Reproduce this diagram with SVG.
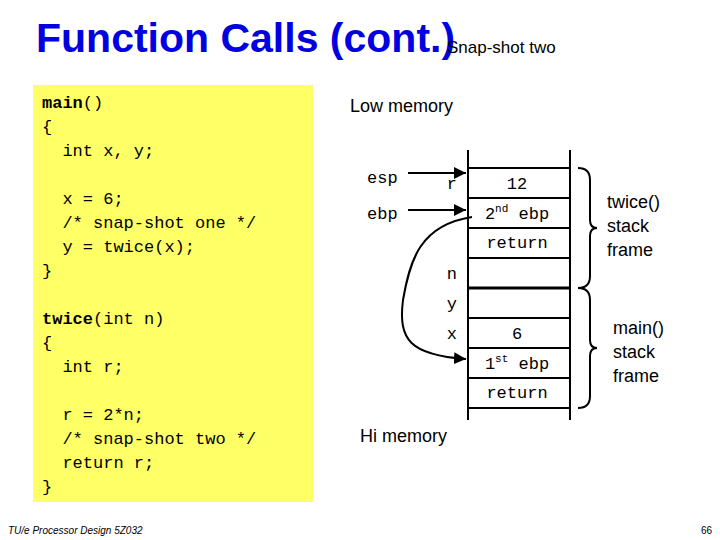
<svg xmlns="http://www.w3.org/2000/svg" width="720" height="540" viewBox="0 0 720 540">
<style>
.c{font-family:"Liberation Mono",monospace;font-size:17px;fill:#000}
.m{font-family:"Liberation Mono",monospace;font-size:17px;fill:#000}
.s{font-family:"Liberation Sans",Arial,sans-serif;fill:#000}
.l{stroke:#000;stroke-width:2;fill:none}
</style>
<defs><marker id="a" viewBox="0 0 10 10" refX="10" refY="5" markerWidth="6" markerHeight="6" orient="auto"><path d="M0,0L10,5L0,10z"/></marker></defs>
<rect width="720" height="540" fill="#fff"/>
<text x="36" y="52" font-family="Liberation Sans,Arial,sans-serif" font-weight="bold" font-size="41" fill="#0000e0">Function Calls (cont.)</text>
<text x="447" y="53" class="s" font-size="17">Snap-shot two</text>
<g id="code">
<rect x="33" y="85" width="280" height="417" fill="#ffff66"/>
<text class="c" xml:space="preserve"><tspan x="42" y="108" font-weight="bold">main</tspan><tspan>()</tspan><tspan x="42" y="132">{</tspan><tspan x="42" y="156">  int x, y;</tspan><tspan x="42" y="204">  x = 6;</tspan><tspan x="42" y="228">  /* snap-shot one */</tspan><tspan x="42" y="252">  y = twice(x);</tspan><tspan x="42" y="276">}</tspan><tspan x="42" y="324" font-weight="bold">twice</tspan><tspan>(int n)</tspan><tspan x="42" y="348">{</tspan><tspan x="42" y="372">  int r;</tspan><tspan x="42" y="420">  r = 2*n;</tspan><tspan x="42" y="444">  /* snap-shot two */</tspan><tspan x="42" y="468">  return r;</tspan><tspan x="42" y="492">}</tspan></text>
</g>
<text x="350" y="112" class="s" font-size="18">Low memory</text>
<text x="360" y="442" class="s" font-size="18">Hi memory</text>
<g id="stack">
<line class="l" x1="468" y1="150" x2="468" y2="420"/>
<line class="l" x1="570" y1="150" x2="570" y2="420"/>
<path class="l" d="M468 168H570M468 198H570M468 228H570M468 258H570M468 318H570M468 348H570M468 378H570M468 408H570"/>
<line x1="468" y1="288" x2="570" y2="288" stroke="#000" stroke-width="3"/>
<g class="m" text-anchor="middle">
<text x="517" y="189">12</text>
<text x="517" y="219">2<tspan font-size="11" dy="-7">nd</tspan><tspan dy="7"> ebp</tspan></text>
<text x="517" y="248">return</text>
<text x="517" y="339">6</text>
<text x="517" y="369">1<tspan font-size="11" dy="-7">st</tspan><tspan dy="7"> ebp</tspan></text>
<text x="517" y="398">return</text>
</g>
<g class="m" text-anchor="end">
<text x="457" y="189">r</text>
<text x="457" y="279">n</text>
<text x="457" y="309">y</text>
<text x="457" y="339">x</text>
</g>
<text x="367" y="183" class="m">esp</text>
<text x="367" y="219" class="m">ebp</text>
</g>
<g id="connectors">
<line class="l" x1="408" y1="173" x2="466" y2="173" marker-end="url(#a)"/>
<line class="l" x1="408" y1="210" x2="466" y2="210" marker-end="url(#a)"/>
<path class="l" d="M472 217C420 225 410 260 403 300C398 340 410 355 466 359" marker-end="url(#a)"/>
</g>
<g id="braces">
<path class="l" d="M578 168Q590 168 590 180V220Q590 228 597 228Q590 228 590 236V276Q590 288 578 288"/>
<path class="l" d="M578 288Q590 288 590 300V340Q590 348 597 348Q590 348 590 356V396Q590 408 578 408"/>
</g>
<text class="s" font-size="18"><tspan x="607" y="208">twice()</tspan><tspan x="607" y="232">stack</tspan><tspan x="607" y="256">frame</tspan></text>
<text class="s" font-size="18"><tspan x="613" y="334">main()</tspan><tspan x="613" y="358">stack</tspan><tspan x="613" y="382">frame</tspan></text>
<text x="8" y="534" class="s" font-size="10" font-style="italic">TU/e Processor Design 5Z032</text>
<text x="712" y="534" class="s" font-size="10" text-anchor="end">66</text>
</svg>
